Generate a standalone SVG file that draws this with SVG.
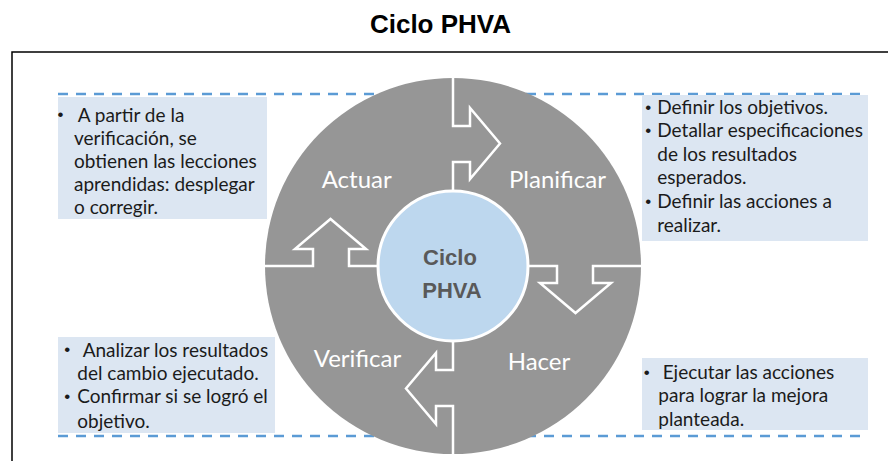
<svg xmlns="http://www.w3.org/2000/svg" width="888" height="461" viewBox="0 0 888 461">
<style>
.title{font-family:"Liberation Sans",Arial,sans-serif;font-weight:bold;font-size:26px;fill:#000;text-anchor:middle}
.body{font-family:Lato,"Open Sans",sans-serif;font-size:19px;fill:#1b1b1b}
.bul{font-family:"Liberation Sans",Arial,sans-serif;font-size:17px;fill:#1b1b1b;text-anchor:middle}
.quad{font-family:Lato,"Open Sans",sans-serif;font-size:24px;fill:#fff;text-anchor:middle}
.center{font-family:"Liberation Sans",Arial,sans-serif;font-weight:bold;font-size:22px;fill:#595959;text-anchor:middle}
.box{fill:#dce6f2}
.dash{stroke:#5b9bd5;stroke-width:2.5;stroke-dasharray:10 8;fill:none}
.div{stroke:#fff;stroke-width:2.5;fill:none;stroke-linejoin:miter}
</style>
<defs>
<path id="arrow" d="M0,-188 L0,-140 L17,-140 L17,-158 L47,-122.5 L17,-87 L17,-104 L0,-104 L0,-75"/>
</defs>
<rect width="888" height="461" fill="#fff"/>
<g id="title"><text class="title" x="440.5" y="33">Ciclo PHVA</text></g>
<g id="frame"><path d="M12,461 L12,52 L888,52" fill="none" stroke="#000" stroke-width="1.5"/></g>
<g id="guides">
<line class="dash" x1="58" y1="94" x2="868" y2="94"/>
<line class="dash" x1="58" y1="436" x2="868" y2="436"/>
</g>
<g id="box-actuar">
<rect class="box" x="58" y="97" width="209" height="122"/>
<text class="bul" x="60.5" y="120">•</text>
<text class="body" x="77.7" y="121.5">A partir de la</text>
<text class="body" x="74" y="144.5">verificación, se</text>
<text class="body" x="74" y="167.5">obtienen las lecciones</text>
<text class="body" x="74" y="190.5">aprendidas: desplegar</text>
<text class="body" x="74" y="213.5">o corregir.</text>
</g>
<g id="box-planificar">
<rect class="box" x="642" y="95" width="226" height="146"/>
<text class="bul" x="648.3" y="112.5">•</text>
<text class="body" x="657.3" y="114">Definir los objetivos.</text>
<text class="bul" x="648.3" y="135.8">•</text>
<text class="body" x="657.3" y="137.3">Detallar especificaciones</text>
<text class="body" x="657.3" y="160.7">de los resultados</text>
<text class="body" x="657.3" y="184">esperados.</text>
<text class="bul" x="648.3" y="206.8">•</text>
<text class="body" x="657.3" y="208.3">Definir las acciones a</text>
<text class="body" x="657.3" y="231.7">realizar.</text>
</g>
<g id="box-verificar">
<rect class="box" x="58" y="337" width="217" height="96"/>
<text class="bul" x="67.3" y="355.2">•</text>
<text class="body" x="82.7" y="356.7">Analizar los resultados</text>
<text class="body" x="77.3" y="380">del cambio ejecutado.</text>
<text class="bul" x="67.3" y="401.8">•</text>
<text class="body" x="77.3" y="403.3">Confirmar si se logró el</text>
<text class="body" x="77.3" y="427.7">objetivo.</text>
</g>
<g id="box-hacer">
<rect class="box" x="642" y="358" width="226" height="72"/>
<text class="bul" x="646.7" y="377.5">•</text>
<text class="body" x="662.7" y="379">Ejecutar las acciones</text>
<text class="body" x="658.3" y="401.7">para lograr la mejora</text>
<text class="body" x="658.3" y="425.7">planteada.</text>
</g>
<g id="cycle">
<circle cx="453" cy="266" r="188" fill="#969696"/>
</g>
<g id="connectors" transform="translate(453,266)">
<use href="#arrow" class="div"/>
<use href="#arrow" class="div" transform="rotate(90)"/>
<use href="#arrow" class="div" transform="rotate(180)"/>
<use href="#arrow" class="div" transform="rotate(270)"/>
</g>
<g id="quad-actuar"><text class="quad" x="356.7" y="188">Actuar</text></g>
<g id="quad-planificar"><text class="quad" x="557.5" y="188">Planificar</text></g>
<g id="quad-verificar"><text class="quad" x="357.5" y="367">Verificar</text></g>
<g id="quad-hacer"><text class="quad" x="539" y="370">Hacer</text></g>
<g id="center">
<circle cx="453" cy="266" r="75" fill="#bdd7ee" stroke="#fff" stroke-width="3"/>
<text class="center" x="450" y="265">Ciclo</text>
<text class="center" x="452" y="298">PHVA</text>
</g>
</svg>
